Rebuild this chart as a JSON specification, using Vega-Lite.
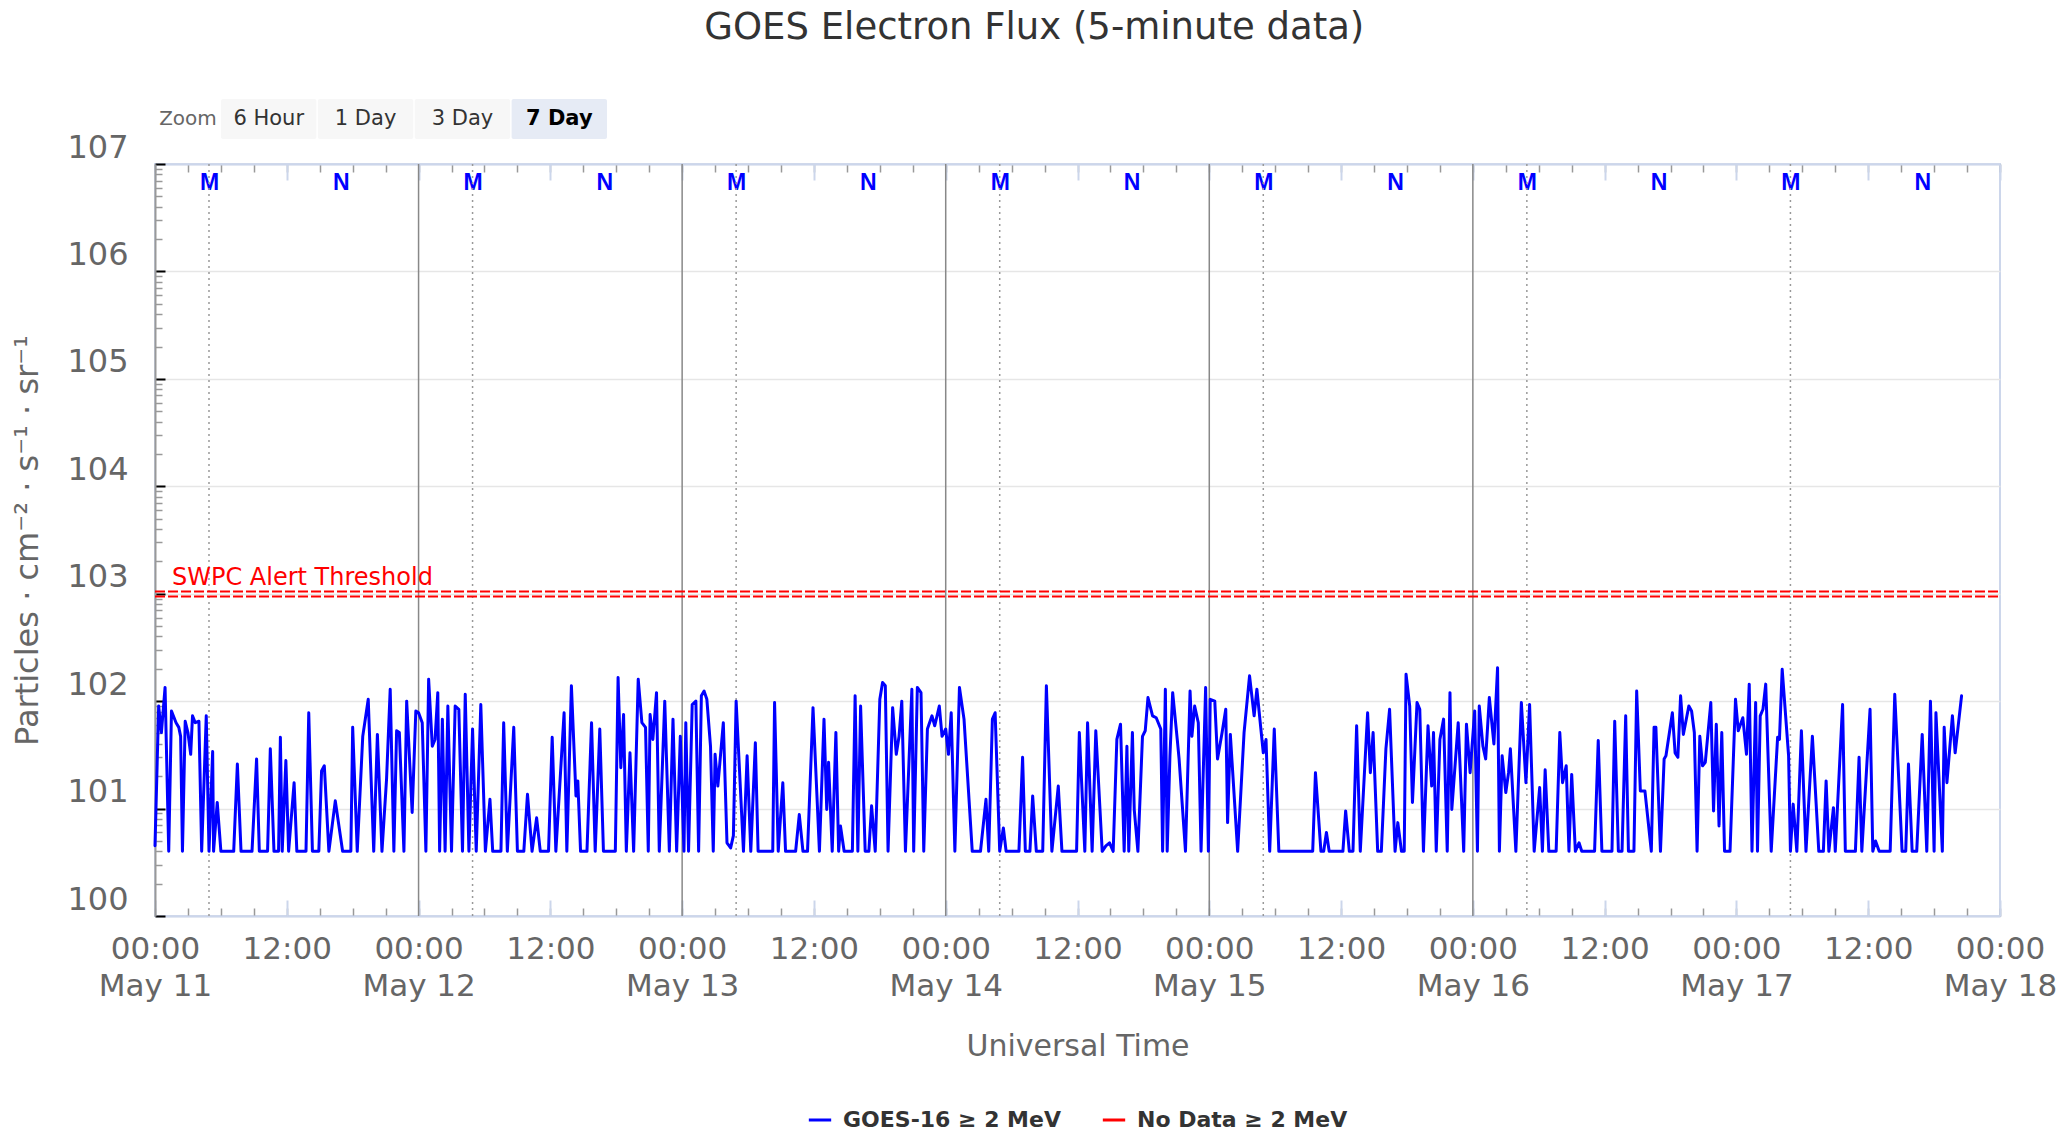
{
  "$schema": "https://vega.github.io/schema/vega-lite/v6.json",
  "background": "white",
  "padding": {"left": 11, "top": 9, "right": 10, "bottom": 0},
  "title": {"text": "GOES Electron Flux (5-minute data)", "font": "DejaVu Sans", "fontSize": 37, "fontWeight": "normal", "color": "#333333", "anchor": "middle", "frame": "bounds", "offset": 52},
  "config": {
    "font": "DejaVu Sans",
    "view": {"stroke": "#ccd6eb", "strokeWidth": 2},
    "axis": {"labelFont": "DejaVu Sans", "titleFont": "DejaVu Sans"},
    "legend": {"layout": {"bottom": {"anchor": "middle"}}}
  },
  "datasets": {
    "btn": [
      {"b": "6 Hour", "s": "off", "g": "z"},
      {"b": "1 Day", "s": "off", "g": "z"},
      {"b": "3 Day", "s": "off", "g": "z"},
      {"b": "7 Day", "s": "on", "g": "z"}
    ],
    "zoomlab": [{"b": "Zoom", "g": "z"}],
    "days": [
      {"t": "2024-05-12T00:00Z"}, {"t": "2024-05-13T00:00Z"}, {"t": "2024-05-14T00:00Z"}, {"t": "2024-05-15T00:00Z"}, {"t": "2024-05-16T00:00Z"}
    ],
    "mid": [
      {"t": "2024-05-11T04:55Z"}, {"t": "2024-05-12T04:55Z"}, {"t": "2024-05-13T04:55Z"}, {"t": "2024-05-14T04:55Z"}, {"t": "2024-05-15T04:55Z"}, {"t": "2024-05-16T04:55Z"}, {"t": "2024-05-17T04:55Z"}
    ],
    "thr": [
      {"f": 1050, "t0": "2024-05-11T00:00Z", "t1": "2024-05-18T00:00Z"},
      {"f": 940, "t0": "2024-05-11T00:00Z", "t1": "2024-05-18T00:00Z"}
    ],
    "thrlab": [
      {"f": 1050, "t0": "2024-05-11T00:00Z", "label": "SWPC Alert Threshold"}
    ],
    "flux": [
      {"t":"2024-05-11T00:00Z","f":4.5},{"t":"2024-05-11T00:20Z","f":90},{"t":"2024-05-11T00:35Z","f":51},{"t":"2024-05-11T00:55Z","f":134},{"t":"2024-05-11T01:15Z","f":4},{"t":"2024-05-11T01:30Z","f":81},{"t":"2024-05-11T01:55Z","f":63},{"t":"2024-05-11T02:10Z","f":57},{"t":"2024-05-11T02:20Z","f":47},{"t":"2024-05-11T02:30Z","f":4},{"t":"2024-05-11T02:45Z","f":65},{"t":"2024-05-11T03:00Z","f":51},{"t":"2024-05-11T03:15Z","f":32},{"t":"2024-05-11T03:25Z","f":73},{"t":"2024-05-11T03:40Z","f":63},{"t":"2024-05-11T04:00Z","f":65},{"t":"2024-05-11T04:15Z","f":4},{"t":"2024-05-11T04:40Z","f":73},{"t":"2024-05-11T04:55Z","f":4},{"t":"2024-05-11T05:15Z","f":34},{"t":"2024-05-11T05:20Z","f":4},{"t":"2024-05-11T05:40Z","f":11.4},{"t":"2024-05-11T06:00Z","f":4},{"t":"2024-05-11T07:10Z","f":4},{"t":"2024-05-11T07:30Z","f":26},{"t":"2024-05-11T07:50Z","f":4},{"t":"2024-05-11T08:50Z","f":4},{"t":"2024-05-11T09:15Z","f":29},{"t":"2024-05-11T09:30Z","f":4},{"t":"2024-05-11T10:15Z","f":4},{"t":"2024-05-11T10:30Z","f":36},{"t":"2024-05-11T10:50Z","f":4},{"t":"2024-05-11T11:15Z","f":4},{"t":"2024-05-11T11:25Z","f":46},{"t":"2024-05-11T11:35Z","f":4},{"t":"2024-05-11T11:55Z","f":28},{"t":"2024-05-11T12:10Z","f":4},{"t":"2024-05-11T12:40Z","f":17.4},{"t":"2024-05-11T12:55Z","f":4},{"t":"2024-05-11T13:45Z","f":4},{"t":"2024-05-11T14:00Z","f":78},{"t":"2024-05-11T14:20Z","f":4},{"t":"2024-05-11T14:55Z","f":4},{"t":"2024-05-11T15:10Z","f":22.4},{"t":"2024-05-11T15:25Z","f":25},{"t":"2024-05-11T15:50Z","f":4},{"t":"2024-05-11T16:25Z","f":11.8},{"t":"2024-05-11T17:05Z","f":4},{"t":"2024-05-11T17:50Z","f":4},{"t":"2024-05-11T18:00Z","f":57},{"t":"2024-05-11T18:25Z","f":4},{"t":"2024-05-11T18:55Z","f":47},{"t":"2024-05-11T19:25Z","f":104},{"t":"2024-05-11T19:55Z","f":4},{"t":"2024-05-11T20:15Z","f":49},{"t":"2024-05-11T20:40Z","f":4},{"t":"2024-05-11T21:05Z","f":18.7},{"t":"2024-05-11T21:25Z","f":129},{"t":"2024-05-11T21:45Z","f":4},{"t":"2024-05-11T22:00Z","f":53},{"t":"2024-05-11T22:15Z","f":51},{"t":"2024-05-11T22:40Z","f":4},{"t":"2024-05-11T22:55Z","f":100},{"t":"2024-05-11T23:25Z","f":9.2},{"t":"2024-05-11T23:45Z","f":81},
      {"t":"2024-05-12T00:00Z","f":78},{"t":"2024-05-12T00:20Z","f":63},{"t":"2024-05-12T00:40Z","f":4},{"t":"2024-05-12T00:55Z","f":160},{"t":"2024-05-12T01:15Z","f":38},{"t":"2024-05-12T01:30Z","f":44},{"t":"2024-05-12T01:45Z","f":120},{"t":"2024-05-12T01:55Z","f":4},{"t":"2024-05-12T02:10Z","f":68},{"t":"2024-05-12T02:25Z","f":4},{"t":"2024-05-12T02:40Z","f":90},{"t":"2024-05-12T03:00Z","f":4},{"t":"2024-05-12T03:20Z","f":90},{"t":"2024-05-12T03:40Z","f":84},{"t":"2024-05-12T04:00Z","f":4},{"t":"2024-05-12T04:15Z","f":116},{"t":"2024-05-12T04:35Z","f":4},{"t":"2024-05-12T04:55Z","f":55},{"t":"2024-05-12T05:15Z","f":4},{"t":"2024-05-12T05:40Z","f":93},{"t":"2024-05-12T06:05Z","f":4},{"t":"2024-05-12T06:30Z","f":12.2},{"t":"2024-05-12T06:45Z","f":4},{"t":"2024-05-12T07:30Z","f":4},{"t":"2024-05-12T07:45Z","f":63},{"t":"2024-05-12T08:05Z","f":4},{"t":"2024-05-12T08:40Z","f":57},{"t":"2024-05-12T09:00Z","f":4},{"t":"2024-05-12T09:35Z","f":4},{"t":"2024-05-12T09:55Z","f":13.6},{"t":"2024-05-12T10:20Z","f":4},{"t":"2024-05-12T10:45Z","f":8.2},{"t":"2024-05-12T11:05Z","f":4},{"t":"2024-05-12T11:50Z","f":4},{"t":"2024-05-12T12:10Z","f":46},{"t":"2024-05-12T12:30Z","f":4},{"t":"2024-05-12T13:15Z","f":78},{"t":"2024-05-12T13:30Z","f":4},{"t":"2024-05-12T13:55Z","f":139},{"t":"2024-05-12T14:20Z","f":13.1},{"t":"2024-05-12T14:30Z","f":18.1},{"t":"2024-05-12T14:45Z","f":4},{"t":"2024-05-12T15:20Z","f":4},{"t":"2024-05-12T15:45Z","f":63},{"t":"2024-05-12T16:05Z","f":4},{"t":"2024-05-12T16:30Z","f":55},{"t":"2024-05-12T16:50Z","f":4},{"t":"2024-05-12T17:55Z","f":4},{"t":"2024-05-12T18:10Z","f":166},{"t":"2024-05-12T18:25Z","f":24},{"t":"2024-05-12T18:40Z","f":75},{"t":"2024-05-12T18:55Z","f":4},{"t":"2024-05-12T19:15Z","f":33},{"t":"2024-05-12T19:35Z","f":4},{"t":"2024-05-12T20:00Z","f":160},{"t":"2024-05-12T20:20Z","f":63},{"t":"2024-05-12T20:40Z","f":57},{"t":"2024-05-12T20:55Z","f":4},{"t":"2024-05-12T21:05Z","f":75},{"t":"2024-05-12T21:20Z","f":44},{"t":"2024-05-12T21:40Z","f":120},{"t":"2024-05-12T21:55Z","f":4},{"t":"2024-05-12T22:25Z","f":100},{"t":"2024-05-12T22:50Z","f":4},{"t":"2024-05-12T23:10Z","f":68},{"t":"2024-05-12T23:30Z","f":4},{"t":"2024-05-12T23:50Z","f":47},
      {"t":"2024-05-13T00:10Z","f":4},{"t":"2024-05-13T00:20Z","f":63},{"t":"2024-05-13T00:35Z","f":4},{"t":"2024-05-13T00:55Z","f":93},{"t":"2024-05-13T01:15Z","f":100},{"t":"2024-05-13T01:30Z","f":4},{"t":"2024-05-13T01:45Z","f":112},{"t":"2024-05-13T02:00Z","f":124},{"t":"2024-05-13T02:15Z","f":104},{"t":"2024-05-13T02:35Z","f":38},{"t":"2024-05-13T02:50Z","f":4},{"t":"2024-05-13T03:00Z","f":32},{"t":"2024-05-13T03:15Z","f":16.2},{"t":"2024-05-13T03:45Z","f":63},{"t":"2024-05-13T04:05Z","f":4.8},{"t":"2024-05-13T04:25Z","f":4.3},{"t":"2024-05-13T04:40Z","f":5.6},{"t":"2024-05-13T04:55Z","f":100},{"t":"2024-05-13T05:35Z","f":4},{"t":"2024-05-13T05:55Z","f":31},{"t":"2024-05-13T06:15Z","f":4},{"t":"2024-05-13T06:40Z","f":41},{"t":"2024-05-13T06:55Z","f":4},{"t":"2024-05-13T07:20Z","f":4},{"t":"2024-05-13T08:15Z","f":4},{"t":"2024-05-13T08:25Z","f":97},{"t":"2024-05-13T08:45Z","f":4},{"t":"2024-05-13T09:10Z","f":17.4},{"t":"2024-05-13T09:25Z","f":4},{"t":"2024-05-13T10:20Z","f":4},{"t":"2024-05-13T10:40Z","f":8.8},{"t":"2024-05-13T11:00Z","f":4},{"t":"2024-05-13T11:25Z","f":4},{"t":"2024-05-13T11:55Z","f":87},{"t":"2024-05-13T12:30Z","f":4},{"t":"2024-05-13T12:55Z","f":68},{"t":"2024-05-13T13:10Z","f":9.8},{"t":"2024-05-13T13:20Z","f":27},{"t":"2024-05-13T13:40Z","f":4},{"t":"2024-05-13T14:00Z","f":51},{"t":"2024-05-13T14:15Z","f":4},{"t":"2024-05-13T14:25Z","f":6.9},{"t":"2024-05-13T14:45Z","f":4},{"t":"2024-05-13T15:30Z","f":4},{"t":"2024-05-13T15:45Z","f":112},{"t":"2024-05-13T16:00Z","f":4},{"t":"2024-05-13T16:15Z","f":90},{"t":"2024-05-13T16:40Z","f":4},{"t":"2024-05-13T17:00Z","f":4},{"t":"2024-05-13T17:15Z","f":10.6},{"t":"2024-05-13T17:35Z","f":4},{"t":"2024-05-13T18:00Z","f":104},{"t":"2024-05-13T18:15Z","f":149},{"t":"2024-05-13T18:30Z","f":139},{"t":"2024-05-13T18:45Z","f":4},{"t":"2024-05-13T19:10Z","f":87},{"t":"2024-05-13T19:30Z","f":32},{"t":"2024-05-13T19:45Z","f":47},{"t":"2024-05-13T20:00Z","f":100},{"t":"2024-05-13T20:20Z","f":4},{"t":"2024-05-13T20:55Z","f":129},{"t":"2024-05-13T21:05Z","f":4},{"t":"2024-05-13T21:25Z","f":134},{"t":"2024-05-13T21:45Z","f":120},{"t":"2024-05-13T22:00Z","f":4},{"t":"2024-05-13T22:20Z","f":55},{"t":"2024-05-13T22:45Z","f":73},{"t":"2024-05-13T23:00Z","f":59},{"t":"2024-05-13T23:25Z","f":90},{"t":"2024-05-13T23:40Z","f":47},
      {"t":"2024-05-14T00:00Z","f":55},{"t":"2024-05-14T00:15Z","f":32},{"t":"2024-05-14T00:30Z","f":78},{"t":"2024-05-14T00:50Z","f":4},{"t":"2024-05-14T01:15Z","f":134},{"t":"2024-05-14T01:40Z","f":68},{"t":"2024-05-14T02:25Z","f":4},{"t":"2024-05-14T03:10Z","f":4},{"t":"2024-05-14T03:40Z","f":12.2},{"t":"2024-05-14T03:55Z","f":4},{"t":"2024-05-14T04:15Z","f":68},{"t":"2024-05-14T04:30Z","f":78},{"t":"2024-05-14T04:55Z","f":4},{"t":"2024-05-14T05:15Z","f":6.6},{"t":"2024-05-14T05:30Z","f":4},{"t":"2024-05-14T06:40Z","f":4},{"t":"2024-05-14T07:00Z","f":30},{"t":"2024-05-14T07:15Z","f":4},{"t":"2024-05-14T07:40Z","f":4},{"t":"2024-05-14T07:55Z","f":13.1},{"t":"2024-05-14T08:15Z","f":4},{"t":"2024-05-14T08:50Z","f":4},{"t":"2024-05-14T09:10Z","f":139},{"t":"2024-05-14T09:40Z","f":4},{"t":"2024-05-14T10:15Z","f":16.2},{"t":"2024-05-14T10:35Z","f":4},{"t":"2024-05-14T11:55Z","f":4},{"t":"2024-05-14T12:10Z","f":51},{"t":"2024-05-14T12:40Z","f":4},{"t":"2024-05-14T12:55Z","f":63},{"t":"2024-05-14T13:20Z","f":4},{"t":"2024-05-14T13:40Z","f":53},{"t":"2024-05-14T14:15Z","f":4},{"t":"2024-05-14T14:35Z","f":4.5},{"t":"2024-05-14T14:55Z","f":4.8},{"t":"2024-05-14T15:15Z","f":4},{"t":"2024-05-14T15:35Z","f":44},{"t":"2024-05-14T15:55Z","f":61},{"t":"2024-05-14T16:15Z","f":4},{"t":"2024-05-14T16:30Z","f":38},{"t":"2024-05-14T16:40Z","f":4},{"t":"2024-05-14T17:00Z","f":51},{"t":"2024-05-14T17:10Z","f":9.8},{"t":"2024-05-14T17:30Z","f":4},{"t":"2024-05-14T17:55Z","f":47},{"t":"2024-05-14T18:10Z","f":53},{"t":"2024-05-14T18:25Z","f":108},{"t":"2024-05-14T18:50Z","f":73},{"t":"2024-05-14T19:10Z","f":70},{"t":"2024-05-14T19:35Z","f":55},{"t":"2024-05-14T19:45Z","f":4},{"t":"2024-05-14T20:00Z","f":129},{"t":"2024-05-14T20:10Z","f":4},{"t":"2024-05-14T20:25Z","f":31},{"t":"2024-05-14T20:40Z","f":120},{"t":"2024-05-14T21:05Z","f":44},{"t":"2024-05-14T21:15Z","f":29},{"t":"2024-05-14T21:50Z","f":4},{"t":"2024-05-14T22:15Z","f":124},{"t":"2024-05-14T22:25Z","f":47},{"t":"2024-05-14T22:40Z","f":90},{"t":"2024-05-14T23:00Z","f":63},{"t":"2024-05-14T23:15Z","f":4},{"t":"2024-05-14T23:40Z","f":134},{"t":"2024-05-14T23:55Z","f":4},
      {"t":"2024-05-15T00:05Z","f":104},{"t":"2024-05-15T00:30Z","f":100},{"t":"2024-05-15T00:45Z","f":29},{"t":"2024-05-15T01:10Z","f":51},{"t":"2024-05-15T01:30Z","f":84},{"t":"2024-05-15T01:40Z","f":7.4},{"t":"2024-05-15T01:55Z","f":49},{"t":"2024-05-15T02:35Z","f":4},{"t":"2024-05-15T03:10Z","f":51},{"t":"2024-05-15T03:40Z","f":172},{"t":"2024-05-15T04:05Z","f":73},{"t":"2024-05-15T04:20Z","f":129},{"t":"2024-05-15T04:55Z","f":33},{"t":"2024-05-15T05:10Z","f":44},{"t":"2024-05-15T05:30Z","f":4},{"t":"2024-05-15T05:55Z","f":55},{"t":"2024-05-15T06:20Z","f":4},{"t":"2024-05-15T09:25Z","f":4},{"t":"2024-05-15T09:40Z","f":21.6},{"t":"2024-05-15T10:10Z","f":4},{"t":"2024-05-15T10:25Z","f":4},{"t":"2024-05-15T10:40Z","f":6},{"t":"2024-05-15T10:55Z","f":4},{"t":"2024-05-15T12:10Z","f":4},{"t":"2024-05-15T12:25Z","f":9.5},{"t":"2024-05-15T12:45Z","f":4},{"t":"2024-05-15T13:05Z","f":4},{"t":"2024-05-15T13:25Z","f":59},{"t":"2024-05-15T13:45Z","f":4},{"t":"2024-05-15T14:25Z","f":78},{"t":"2024-05-15T14:40Z","f":21.6},{"t":"2024-05-15T14:55Z","f":51},{"t":"2024-05-15T15:20Z","f":4},{"t":"2024-05-15T15:40Z","f":4},{"t":"2024-05-15T16:05Z","f":36},{"t":"2024-05-15T16:25Z","f":84},{"t":"2024-05-15T16:55Z","f":4},{"t":"2024-05-15T17:10Z","f":7.4},{"t":"2024-05-15T17:30Z","f":4},{"t":"2024-05-15T17:45Z","f":4},{"t":"2024-05-15T17:55Z","f":178},{"t":"2024-05-15T18:15Z","f":90},{"t":"2024-05-15T18:30Z","f":11.4},{"t":"2024-05-15T18:55Z","f":97},{"t":"2024-05-15T19:10Z","f":84},{"t":"2024-05-15T19:30Z","f":4},{"t":"2024-05-15T19:55Z","f":59},{"t":"2024-05-15T20:15Z","f":16.2},{"t":"2024-05-15T20:25Z","f":51},{"t":"2024-05-15T20:40Z","f":4},{"t":"2024-05-15T21:00Z","f":44},{"t":"2024-05-15T21:20Z","f":68},{"t":"2024-05-15T21:40Z","f":4},{"t":"2024-05-15T21:55Z","f":120},{"t":"2024-05-15T22:05Z","f":9.8},{"t":"2024-05-15T22:40Z","f":63},{"t":"2024-05-15T23:10Z","f":4},{"t":"2024-05-15T23:25Z","f":61},{"t":"2024-05-15T23:45Z","f":21.6},
      {"t":"2024-05-16T00:10Z","f":81},{"t":"2024-05-16T00:25Z","f":4},{"t":"2024-05-16T00:35Z","f":90},{"t":"2024-05-16T00:55Z","f":38},{"t":"2024-05-16T01:10Z","f":29},{"t":"2024-05-16T01:30Z","f":108},{"t":"2024-05-16T01:55Z","f":40},{"t":"2024-05-16T02:15Z","f":205},{"t":"2024-05-16T02:25Z","f":4},{"t":"2024-05-16T02:40Z","f":31},{"t":"2024-05-16T03:00Z","f":14.1},{"t":"2024-05-16T03:15Z","f":21.6},{"t":"2024-05-16T03:25Z","f":36},{"t":"2024-05-16T03:55Z","f":4},{"t":"2024-05-16T04:25Z","f":97},{"t":"2024-05-16T04:50Z","f":17.4},{"t":"2024-05-16T05:10Z","f":93},{"t":"2024-05-16T05:35Z","f":4},{"t":"2024-05-16T06:05Z","f":15.7},{"t":"2024-05-16T06:20Z","f":4},{"t":"2024-05-16T06:35Z","f":23},{"t":"2024-05-16T06:55Z","f":4},{"t":"2024-05-16T07:35Z","f":4},{"t":"2024-05-16T07:55Z","f":51},{"t":"2024-05-16T08:10Z","f":17.4},{"t":"2024-05-16T08:30Z","f":25},{"t":"2024-05-16T08:45Z","f":4},{"t":"2024-05-16T09:00Z","f":20.8},{"t":"2024-05-16T09:20Z","f":4},{"t":"2024-05-16T09:40Z","f":4.8},{"t":"2024-05-16T09:55Z","f":4},{"t":"2024-05-16T11:05Z","f":4},{"t":"2024-05-16T11:25Z","f":43},{"t":"2024-05-16T11:45Z","f":4},{"t":"2024-05-16T12:40Z","f":4},{"t":"2024-05-16T12:55Z","f":65},{"t":"2024-05-16T13:15Z","f":4},{"t":"2024-05-16T13:35Z","f":4},{"t":"2024-05-16T13:55Z","f":73},{"t":"2024-05-16T14:10Z","f":4},{"t":"2024-05-16T14:40Z","f":4},{"t":"2024-05-16T14:55Z","f":124},{"t":"2024-05-16T15:15Z","f":14.6},{"t":"2024-05-16T15:40Z","f":14.6},{"t":"2024-05-16T16:15Z","f":4},{"t":"2024-05-16T16:30Z","f":57},{"t":"2024-05-16T16:40Z","f":57},{"t":"2024-05-16T17:05Z","f":4},{"t":"2024-05-16T17:25Z","f":29},{"t":"2024-05-16T17:35Z","f":31},{"t":"2024-05-16T18:10Z","f":78},{"t":"2024-05-16T18:25Z","f":33},{"t":"2024-05-16T18:40Z","f":30},{"t":"2024-05-16T18:55Z","f":112},{"t":"2024-05-16T19:10Z","f":49},{"t":"2024-05-16T19:40Z","f":90},{"t":"2024-05-16T19:55Z","f":81},{"t":"2024-05-16T20:10Z","f":51},{"t":"2024-05-16T20:25Z","f":4},{"t":"2024-05-16T20:40Z","f":47},{"t":"2024-05-16T20:55Z","f":25},{"t":"2024-05-16T21:10Z","f":27},{"t":"2024-05-16T21:40Z","f":97},{"t":"2024-05-16T21:55Z","f":9.5},{"t":"2024-05-16T22:10Z","f":61},{"t":"2024-05-16T22:25Z","f":6.9},{"t":"2024-05-16T22:40Z","f":51},{"t":"2024-05-16T22:55Z","f":4},{"t":"2024-05-16T23:25Z","f":4},{"t":"2024-05-16T23:55Z","f":104},
      {"t":"2024-05-17T00:10Z","f":53},{"t":"2024-05-17T00:35Z","f":70},{"t":"2024-05-17T00:55Z","f":32},{"t":"2024-05-17T01:10Z","f":144},{"t":"2024-05-17T01:25Z","f":4},{"t":"2024-05-17T01:45Z","f":97},{"t":"2024-05-17T01:55Z","f":4},{"t":"2024-05-17T02:10Z","f":73},{"t":"2024-05-17T02:25Z","f":84},{"t":"2024-05-17T02:40Z","f":144},{"t":"2024-05-17T03:10Z","f":4},{"t":"2024-05-17T03:45Z","f":46},{"t":"2024-05-17T03:55Z","f":44},{"t":"2024-05-17T04:10Z","f":198},{"t":"2024-05-17T04:45Z","f":31},{"t":"2024-05-17T04:55Z","f":4},{"t":"2024-05-17T05:10Z","f":11},{"t":"2024-05-17T05:30Z","f":4},{"t":"2024-05-17T05:55Z","f":53},{"t":"2024-05-17T06:20Z","f":4},{"t":"2024-05-17T06:55Z","f":47},{"t":"2024-05-17T07:30Z","f":4},{"t":"2024-05-17T07:55Z","f":4},{"t":"2024-05-17T08:10Z","f":18.1},{"t":"2024-05-17T08:25Z","f":4},{"t":"2024-05-17T08:50Z","f":10.2},{"t":"2024-05-17T09:00Z","f":4},{"t":"2024-05-17T09:40Z","f":93},{"t":"2024-05-17T09:55Z","f":4},{"t":"2024-05-17T10:50Z","f":4},{"t":"2024-05-17T11:10Z","f":30},{"t":"2024-05-17T11:25Z","f":4},{"t":"2024-05-17T12:10Z","f":84},{"t":"2024-05-17T12:25Z","f":4},{"t":"2024-05-17T12:40Z","f":5},{"t":"2024-05-17T13:00Z","f":4},{"t":"2024-05-17T14:00Z","f":4},{"t":"2024-05-17T14:25Z","f":116},{"t":"2024-05-17T15:05Z","f":4},{"t":"2024-05-17T15:25Z","f":4},{"t":"2024-05-17T15:40Z","f":26},{"t":"2024-05-17T16:00Z","f":4},{"t":"2024-05-17T16:25Z","f":4},{"t":"2024-05-17T16:55Z","f":49},{"t":"2024-05-17T17:20Z","f":4},{"t":"2024-05-17T17:40Z","f":100},{"t":"2024-05-17T18:00Z","f":4},{"t":"2024-05-17T18:10Z","f":78},{"t":"2024-05-17T18:45Z","f":4},{"t":"2024-05-17T18:55Z","f":57},{"t":"2024-05-17T19:10Z","f":17.4},{"t":"2024-05-17T19:40Z","f":73},{"t":"2024-05-17T19:55Z","f":33},{"t":"2024-05-17T20:30Z","f":112}
    ]
  },
  "width": 1845,
  "height": 752,
  "resolve": {"scale": {"x": "independent", "y": "independent"}, "axis": {"x": "independent", "y": "independent"}},
  "layer": [
    {
      "data": {"name": "btn"},
      "mark": {"type": "rect", "cornerRadius": 2},
      "encoding": {
        "x": {"field": "b", "type": "nominal", "sort": null, "scale": {"type": "band", "domain": ["6 Hour", "1 Day", "3 Day", "7 Day"], "range": [66, 452], "paddingInner": 0.015, "paddingOuter": 0}, "axis": null},
        "y": {"field": "g", "type": "nominal", "scale": {"type": "band", "domain": ["z"], "range": [-65, -25], "paddingInner": 0, "paddingOuter": 0}, "axis": null},
        "fill": {"field": "s", "type": "nominal", "scale": {"domain": ["off", "on"], "range": ["#f7f7f7", "#e6ebf5"]}, "legend": null}
      }
    },
    {
      "data": {"name": "btn"},
      "transform": [{"filter": "datum.s == 'off'"}],
      "mark": {"type": "text", "fontSize": 21, "color": "#333333", "font": "DejaVu Sans"},
      "encoding": {
        "x": {"field": "b", "type": "nominal", "sort": null, "scale": {"type": "band", "domain": ["6 Hour", "1 Day", "3 Day", "7 Day"], "range": [66, 452], "paddingInner": 0.015, "paddingOuter": 0}, "axis": null},
        "y": {"field": "g", "type": "nominal", "scale": {"type": "band", "domain": ["z"], "range": [-65, -25], "paddingInner": 0, "paddingOuter": 0}, "axis": null},
        "text": {"field": "b"}
      }
    },
    {
      "data": {"name": "btn"},
      "transform": [{"filter": "datum.s == 'on'"}],
      "mark": {"type": "text", "fontSize": 21, "fontWeight": "bold", "color": "#000000", "font": "DejaVu Sans"},
      "encoding": {
        "x": {"field": "b", "type": "nominal", "sort": null, "scale": {"type": "band", "domain": ["6 Hour", "1 Day", "3 Day", "7 Day"], "range": [66, 452], "paddingInner": 0.015, "paddingOuter": 0}, "axis": null},
        "y": {"field": "g", "type": "nominal", "scale": {"type": "band", "domain": ["z"], "range": [-65, -25], "paddingInner": 0, "paddingOuter": 0}, "axis": null},
        "text": {"field": "b"}
      }
    },
    {
      "data": {"name": "zoomlab"},
      "mark": {"type": "text", "fontSize": 20, "color": "#666666", "font": "DejaVu Sans"},
      "encoding": {
        "x": {"field": "b", "type": "nominal", "scale": {"type": "band", "domain": ["Zoom"], "range": [0, 66], "paddingInner": 0, "paddingOuter": 0}, "axis": null},
        "y": {"field": "g", "type": "nominal", "scale": {"type": "band", "domain": ["z"], "range": [-65, -25], "paddingInner": 0, "paddingOuter": 0}, "axis": null},
        "text": {"field": "b"}
      }
    },
    {
      "data": {"name": "days"},
      "mark": {"type": "rule", "color": "#888888", "strokeWidth": 1.5},
      "encoding": {
        "x": {"field": "t", "type": "temporal",
          "scale": {"type": "utc", "domain": [1715385600000, 1715990400000], "nice": false},
          "axis": {"orient": "bottom", "values": [1715385600000,1715396400000,1715407200000,1715418000000,1715428800000,1715439600000,1715450400000,1715461200000,1715472000000,1715482800000,1715493600000,1715504400000,1715515200000,1715526000000,1715536800000,1715547600000,1715558400000,1715569200000,1715580000000,1715590800000,1715601600000,1715612400000,1715623200000,1715634000000,1715644800000,1715655600000,1715666400000,1715677200000,1715688000000,1715698800000,1715709600000,1715720400000,1715731200000,1715742000000,1715752800000,1715763600000,1715774400000,1715785200000,1715796000000,1715806800000,1715817600000,1715828400000,1715839200000,1715850000000,1715860800000,1715871600000,1715882400000,1715893200000,1715904000000,1715914800000,1715925600000,1715936400000,1715947200000,1715958000000,1715968800000,1715979600000,1715990400000],
            "tickSize": -8, "tickColor": "#999999", "tickWidth": 1.5, "labels": false, "domain": false, "grid": false, "title": null}}
      }
    },
    {
      "data": {"name": "mid"},
      "mark": {"type": "rule", "color": "#999999", "strokeWidth": 1.5, "strokeDash": [2, 4]},
      "encoding": {
        "x": {"field": "t", "type": "temporal",
          "scale": {"type": "utc", "domain": [1715385600000, 1715990400000], "nice": false},
          "axis": {"orient": "top", "values": [1715385600000,1715396400000,1715407200000,1715418000000,1715428800000,1715439600000,1715450400000,1715461200000,1715472000000,1715482800000,1715493600000,1715504400000,1715515200000,1715526000000,1715536800000,1715547600000,1715558400000,1715569200000,1715580000000,1715590800000,1715601600000,1715612400000,1715623200000,1715634000000,1715644800000,1715655600000,1715666400000,1715677200000,1715688000000,1715698800000,1715709600000,1715720400000,1715731200000,1715742000000,1715752800000,1715763600000,1715774400000,1715785200000,1715796000000,1715806800000,1715817600000,1715828400000,1715839200000,1715850000000,1715860800000,1715871600000,1715882400000,1715893200000,1715904000000,1715914800000,1715925600000,1715936400000,1715947200000,1715958000000,1715968800000,1715979600000,1715990400000],
            "tickSize": -8, "tickColor": "#999999", "tickWidth": 1.5, "labels": false, "domain": true, "domainColor": "#ccd6eb", "domainWidth": 2, "grid": false, "title": null}}
      }
    },
    {
      "data": {"name": "thr"},
      "mark": {"type": "rule", "color": "#ff0000", "strokeWidth": 2, "strokeDash": [10, 3]},
      "encoding": {
        "x": {"field": "t0", "type": "temporal",
          "scale": {"type": "utc", "domain": [1715385600000, 1715990400000], "nice": false},
          "axis": {"orient": "top", "values": [1715385600000,1715428800000,1715472000000,1715515200000,1715558400000,1715601600000,1715644800000,1715688000000,1715731200000,1715774400000,1715817600000,1715860800000,1715904000000,1715947200000,1715990400000],
            "tickSize": -16, "tickColor": "#ccd6eb", "tickWidth": 2, "labels": false, "domain": false, "grid": false, "title": null}},
        "x2": {"field": "t1"},
        "y": {"field": "f", "type": "quantitative",
          "scale": {"type": "log", "domain": [1, 10000000], "nice": false},
          "axis": {"orient": "left", "values": [2,3,4,5,6,7,8,9,20,30,40,50,60,70,80,90,200,300,400,500,600,700,800,900,2000,3000,4000,5000,6000,7000,8000,9000,20000,30000,40000,50000,60000,70000,80000,90000,200000,300000,400000,500000,600000,700000,800000,900000,2000000,3000000,4000000,5000000,6000000,7000000,8000000,9000000], "tickSize": -7, "tickColor": "#999999", "tickWidth": 1.5, "labels": false, "domain": false, "grid": false, "title": null}}
      }
    },
    {
      "data": {"name": "thrlab"},
      "mark": {"type": "text", "color": "#ff0000", "fontSize": 24, "font": "DejaVu Sans", "align": "left", "baseline": "bottom", "dx": 17, "dy": -1},
      "encoding": {
        "x": {"field": "t0", "type": "temporal",
          "scale": {"type": "utc", "domain": [1715385600000, 1715990400000], "nice": false},
          "axis": {"orient": "top",
            "values": [1715403300000,1715446500000,1715489700000,1715532900000,1715576100000,1715619300000,1715662500000,1715705700000,1715748900000,1715792100000,1715835300000,1715878500000,1715921700000,1715964900000],
            "labelExpr": "utchours(datum.value) < 12 ? 'M' : 'N'",
            "labelFont": "Liberation Sans", "labelFontSize": 23, "labelFontWeight": "bold", "labelColor": "#0000ff",
            "labelPadding": -30, "labelFlush": false, "labelOverlap": false,
            "ticks": false, "domain": false, "grid": false, "title": null}},
        "y": {"field": "f", "type": "quantitative",
          "scale": {"type": "log", "domain": [1, 10000000], "nice": false},
          "axis": {"orient": "left", "values": [1, 10, 100, 1000, 10000, 100000, 1000000, 10000000], "tickSize": -10, "tickColor": "#000000", "tickWidth": 2, "labels": false, "domain": false, "grid": false, "title": null}},
        "text": {"field": "label"}
      }
    },
    {
      "data": {"name": "flux"},
      "mark": {"type": "line", "strokeWidth": 3, "strokeJoin": "round", "strokeCap": "round"},
      "encoding": {
        "x": {"field": "t", "type": "temporal",
          "scale": {"type": "utc", "domain": [1715385600000, 1715990400000], "nice": false},
          "axis": {"orient": "bottom", "values": [1715385600000,1715428800000,1715472000000,1715515200000,1715558400000,1715601600000,1715644800000,1715688000000,1715731200000,1715774400000,1715817600000,1715860800000,1715904000000,1715947200000,1715990400000],
            "labelExpr": "utcFormat(datum.value, '%H') == '00' ? [utcFormat(datum.value, '%H:%M'), utcFormat(datum.value, '%b %d')] : utcFormat(datum.value, '%H:%M')",
            "labelFontSize": 31, "labelColor": "#666666", "labelLineHeight": 37, "labelPadding": 34, "labelFlush": false, "labelOverlap": false,
            "tickColor": "#ccd6eb", "tickSize": -16, "tickWidth": 2,
            "domainColor": "#ccd6eb", "domainWidth": 2, "grid": false,
            "title": "Universal Time", "titleFontSize": 30, "titleColor": "#666666", "titleFontWeight": "normal", "titlePadding": 30}},
        "y": {"field": "f", "type": "quantitative",
          "scale": {"type": "log", "domain": [1, 10000000], "nice": false},
          "axis": {"orient": "left", "values": [1, 10, 100, 1000, 10000, 100000, 1000000, 10000000],
            "labelExpr": "'10' + round(log(datum.value) / LN10)",
            "labelFontSize": 32, "labelColor": "#666666", "labelPadding": 27, "labelBaseline": "bottom",
            "ticks": false, "grid": true, "gridColor": "#e6e6e6", "gridWidth": 1.5,
            "domainColor": "#999999", "domainWidth": 2,
            "title": "Particles · cm⁻² · s⁻¹ · sr⁻¹", "titleFontSize": 32, "titleColor": "#666666", "titleFontWeight": "normal", "titlePadding": 22}},
        "color": {"datum": "GOES-16 ≥ 2 MeV", "type": "nominal",
          "scale": {"domain": ["GOES-16 ≥ 2 MeV", "No Data ≥ 2 MeV"], "range": ["#0000ff", "#ff0000"]},
          "legend": {"orient": "bottom", "direction": "horizontal", "title": null, "symbolType": "stroke", "symbolStrokeWidth": 3, "symbolSize": 500, "labelFontSize": 22, "labelFontWeight": "bold", "labelColor": "#333333", "labelFont": "DejaVu Sans", "labelLimit": 0, "columnPadding": 35, "labelOffset": 10, "offset": 46}}
      }
    }
  ]
}
